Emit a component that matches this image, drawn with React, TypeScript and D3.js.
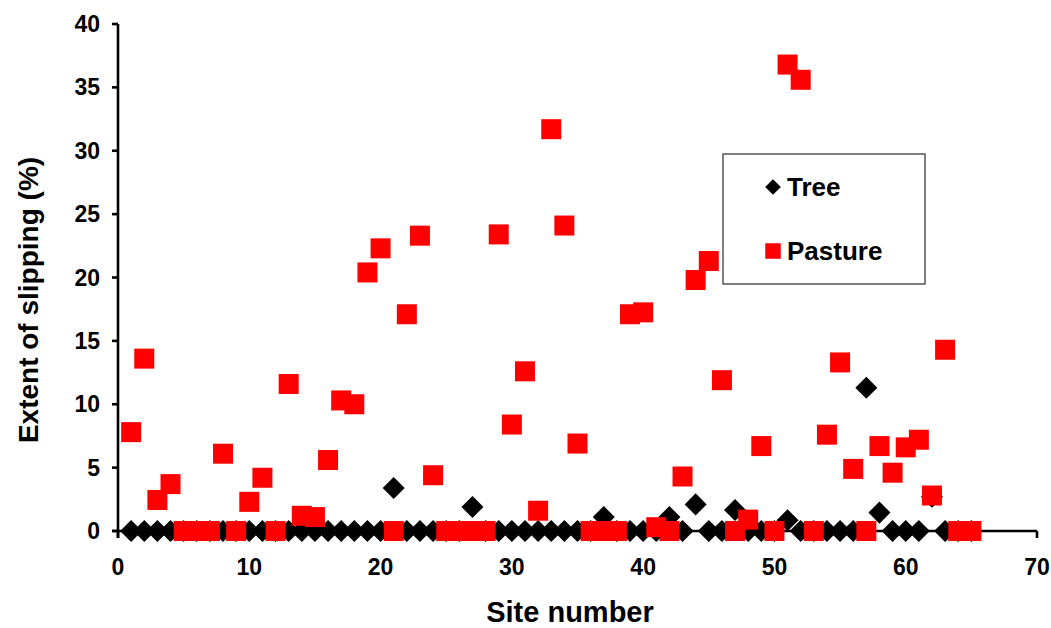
import React from "react";
import * as d3 from "d3";

// Site numbers along the x axis
const sites = [
  1, 2, 3, 4, 5, 6, 7, 8, 9, 10, 11, 12, 13, 14, 15, 16, 17, 18, 19, 20,
  21, 22, 23, 24, 25, 26, 27, 28, 29, 30, 31, 32, 33, 34, 35, 36, 37, 38, 39, 40,
  41, 42, 43, 44, 45, 46, 47, 48, 49, 50, 51, 52, 53, 54, 55, 56, 57, 58, 59, 60,
  61, 62, 63, 64, 65,
];

// Extent of slipping (%) under trees
const treeValues = [
  0, 0, 0, 0, 0, 0, 0, 0, 0, 0, 0, 0, 0, 0, 0, 0, 0, 0, 0, 0,
  3.4, 0, 0, 0, 0, 0, 1.9, 0, 0, 0, 0, 0, 0, 0, 0, 0, 1.1, 0, 0, 0,
  0, 1.1, 0, 2.1, 0, 0, 1.65, 0, 0, 0, 0.85, 0, 0, 0, 0, 0, 11.3, 1.45, 0, 0,
  0, 2.7, 0, 0, 0,
];

// Extent of slipping (%) under pasture
const pastureValues = [
  7.8, 13.6, 2.45, 3.7, 0, 0, 0, 6.1, 0, 2.3,
  4.2, 0, 11.6, 1.2, 1.1, 5.6, 10.3, 10.0, 20.4, 22.3,
  0, 17.1, 23.3, 4.4, 0, 0, 0, 0, 23.4, 8.4,
  12.6, 1.6, 31.7, 24.1, 6.9, 0, 0, 0, 17.1, 17.25,
  0.3, 0, 4.3, 19.8, 21.3, 11.9, 0, 0.9, 6.7, 0,
  36.8, 35.6, 0, 7.6, 13.3, 4.9, 0, 6.7, 4.6, 6.6,
  7.2, 2.8, 14.3, 0, 0,
];

const xTicks = [0, 10, 20, 30, 40, 50, 60, 70];
const yTicks = [0, 5, 10, 15, 20, 25, 30, 35, 40];

const seriesNames = ["Tree", "Pasture"];

const FONT = "'Liberation Sans', Arial, Helvetica, sans-serif";

export default function App() {
  const width = 1051;
  const height = 628;

  const x = d3.scaleLinear().domain([0, 70]).range([118, 1037]);
  const y = d3.scaleLinear().domain([0, 40]).range([531, 24]);

  // diamond2 tip radius is 0.62625 * sqrt(size)
  const diamond = d3.symbol().type(d3.symbolDiamond2).size(310)();
  const legendDiamond = d3.symbol().type(d3.symbolDiamond2).size(157)();
  const sq = 20;
  const legendSq = 15.5;

  const tree = sites.map((s, i) => ({ s, v: treeValues[i] }));
  const pasture = sites.map((s, i) => ({ s, v: pastureValues[i] }));

  return (
    <svg
      width={width}
      height={height}
      style={{ position: "absolute", left: 0, top: 0, background: "#fff" }}
      fontFamily={FONT}
    >
      <rect x={0} y={0} width={width} height={height} fill="#fff" />

      {/* Axes (markers are drawn over them) */}
      <g stroke="#000" strokeWidth={2.6} fill="none">
        <line x1={x(0)} x2={x(0)} y1={y(40)} y2={y(0) + 7} />
        <line x1={x(0) - 6} x2={x(70)} y1={y(0)} y2={y(0)} />
        {yTicks.map((t) => (
          <line key={`yt${t}`} x1={x(0) - 6} x2={x(0)} y1={y(t)} y2={y(t)} />
        ))}
        {xTicks.map((t) => (
          <line key={`xt${t}`} x1={x(t)} x2={x(t)} y1={y(0)} y2={y(0) + 7} />
        ))}
      </g>

      {/* Tree series */}
      <g>
        {tree.map((d) => (
          <path
            key={`t${d.s}`}
            d={diamond}
            transform={`translate(${x(d.s)},${y(d.v)})`}
            fill="#000"
          />
        ))}
      </g>

      {/* Pasture series */}
      <g>
        {pasture.map((d) => (
          <rect
            key={`p${d.s}`}
            x={x(d.s) - sq / 2}
            y={y(d.v) - sq / 2}
            width={sq}
            height={sq}
            fill="#ff0000"
          />
        ))}
      </g>

      {/* Tick labels */}
      <g fontSize={23} fontWeight="bold" fill="#000">
        {yTicks.map((t) => (
          <text key={`yl${t}`} x={100} y={y(t) + 8} textAnchor="end">
            {t}
          </text>
        ))}
        {xTicks.map((t) => (
          <text key={`xl${t}`} x={x(t)} y={575} textAnchor="middle">
            {t}
          </text>
        ))}
      </g>

      {/* Axis titles */}
      <text
        x={570}
        y={622}
        textAnchor="middle"
        fontSize={29}
        fontWeight="bold"
        fill="#000"
      >
        Site number
      </text>
      <text
        transform={`translate(38,300) rotate(-90)`}
        textAnchor="middle"
        fontSize={28}
        fontWeight="bold"
        fill="#000"
      >
        Extent of slipping (%)
      </text>

      {/* Legend */}
      <g>
        <rect
          x={723}
          y={154}
          width={202}
          height={130}
          fill="#fff"
          stroke="#555"
          strokeWidth={1.5}
        />
        <path d={legendDiamond} transform="translate(773,187)" fill="#000" />
        <text x={787} y={196} fontSize={26} fontWeight="bold" fill="#000">
          {seriesNames[0]}
        </text>
        <rect
          x={773 - legendSq / 2}
          y={251 - legendSq / 2}
          width={legendSq}
          height={legendSq}
          fill="#ff0000"
        />
        <text x={787} y={260} fontSize={26} fontWeight="bold" fill="#000">
          {seriesNames[1]}
        </text>
      </g>
    </svg>
  );
}
